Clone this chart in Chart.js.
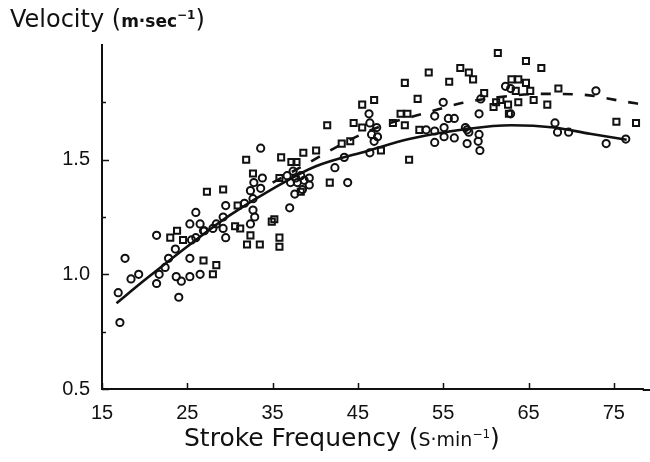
<!DOCTYPE html>
<html>
<head>
<meta charset="utf-8">
<script src="https://cdn.jsdelivr.net/npm/chart.js@4"></script>
<style>
  html, body { margin:0; padding:0; background:#fff; }
  #wrap { position:relative; width:650px; height:462px; }
  canvas { position:absolute; left:0; top:0; }
  .ttl { position:absolute; color:#111; font-family:"DejaVu Sans", sans-serif; white-space:nowrap; line-height:1; }
  .ttl .sm { font-size:17px; font-weight:bold; }
  .ttl sup { font-size:12px; vertical-align:8px; }
</style>
</head>
<body>
<div id="wrap">
  <canvas id="c" width="650" height="462"></canvas>
  <div class="ttl" id="ytitle" style="left:10px; top:7px; font-size:24px;">Velocity (<span class="sm">m·sec<sup>−1</sup></span>)</div>
  <div class="ttl" id="xtitle" style="left:184px; top:425px; font-size:25px;">Stroke Frequency (<span class="sm" style="font-weight:normal;font-size:19px;">S·min<sup>−1</sup></span>)</div>
</div>
<script>
// ---- Data ----
const xTicks = [15, 25, 35, 45, 55, 65, 75];
const yTicks = [0.5, 0.75, 1.0, 1.25, 1.5, 1.75];
const yTickLabels = {0.5: "0.5", 1: "1.0", 1.5: "1.5"};

// Circles (solid-curve group): [stroke frequency, velocity]
const circlePoints = [
  [16.9,0.92],[17.1,0.79],[17.7,1.07],[18.4,0.98],[19.3,1.00],[21.4,1.17],[21.4,0.96],[21.7,1.00],
  [22.4,1.03],[22.8,1.07],[23.6,1.11],[23.7,0.99],[24.0,0.90],[24.3,0.97],[25.3,1.22],[25.3,1.07],
  [25.3,0.99],[25.5,1.15],[26.0,1.27],[26.0,1.16],[26.5,1.22],[26.5,1.00],[26.9,1.19],
  [33.6,1.55],[33.8,1.42],[32.8,1.40],[36.7,1.43],[37.4,1.45],[37.7,1.42],[38.3,1.43],[37.1,1.40],
  [37.9,1.40],[39.3,1.42],[37.6,1.35],[32.4,1.365],[33.6,1.375],[32.7,1.33],[29.5,1.30],[31.7,1.31],
  [37.0,1.29],[32.7,1.28],[32.9,1.25],[28.4,1.22],[29.2,1.25],[28.0,1.20],[29.2,1.20],[32.4,1.22],
  [29.5,1.16],[27.0,1.19],
  [46.3,1.70],[46.4,1.66],[47.2,1.64],[46.6,1.61],[47.3,1.60],[46.9,1.58],[46.4,1.53],[43.4,1.51],
  [42.3,1.465],[39.3,1.39],[38.7,1.41],[38.5,1.37],[43.8,1.40],
  [62.3,1.82],[62.9,1.81],[59.4,1.765],[55.0,1.75],[59.2,1.70],[54.0,1.69],[55.6,1.68],[56.3,1.68],
  [53.0,1.63],[54.0,1.625],[55.1,1.64],[55.1,1.60],[56.3,1.595],[57.8,1.63],[57.6,1.64],[58.0,1.62],
  [57.8,1.57],[59.2,1.61],[59.1,1.58],[59.3,1.54],[54.0,1.575],[62.9,1.70],
  [68.1,1.66],[68.4,1.62],[69.7,1.62],[74.1,1.57],[76.4,1.59],[72.9,1.80]
];

// Squares (dashed-curve group): [stroke frequency, velocity]
const squarePoints = [
  [23.0,1.16],[23.8,1.19],[24.5,1.15],[27.3,1.36],[26.9,1.06],[28.0,1.00],[28.4,1.04],
  [31.9,1.50],[36.0,1.51],[38.6,1.53],[37.2,1.49],[37.8,1.49],[32.7,1.44],[35.8,1.42],[38.3,1.36],
  [29.2,1.37],[30.9,1.30],[30.6,1.21],[31.2,1.20],[34.9,1.23],[35.2,1.24],[32.4,1.17],[32.0,1.13],
  [33.5,1.13],[35.8,1.16],[35.8,1.12],
  [50.5,1.835],[45.5,1.74],[46.9,1.76],[50.0,1.70],[50.8,1.70],[41.4,1.65],[44.5,1.66],[45.5,1.64],
  [49.1,1.66],[50.5,1.65],[47.7,1.54],[44.1,1.58],[43.1,1.57],[40.1,1.54],[41.7,1.40],[51.0,1.50],
  [61.4,1.965],[57.0,1.90],[58.0,1.88],[58.5,1.85],[53.3,1.88],[55.7,1.84],[63.0,1.85],[59.8,1.79],
  [52.0,1.765],[61.2,1.75],[61.7,1.76],[60.9,1.73],[62.6,1.74],[62.7,1.70],[52.2,1.63],
  [64.7,1.93],[66.5,1.90],[63.8,1.85],[64.7,1.835],[63.5,1.80],[65.2,1.80],[65.6,1.76],[63.8,1.75],
  [68.5,1.81],[67.2,1.74],[75.3,1.665],[77.6,1.66]
];

// Fitted curves, points
const solidCurve = [
  [16.7,0.874],[20,0.975],[26,1.15],[30,1.258],[35.8,1.39],[40,1.47],[46.3,1.54],[51,1.59],
  [58,1.635],[63,1.65],[68,1.64],[72.2,1.613],[76.5,1.587]
];
const dashedCurve = [
  [35,1.40],[39.4,1.49],[44,1.585],[48,1.65],[53,1.704],[57.3,1.748],[61,1.77],[66.4,1.787],
  [71.4,1.783],[76,1.755],[78.5,1.74]
];

const toXY = arr => arr.map(p => ({x: p[0], y: p[1]}));
const INK = '#111';

const inwardTicks = {
  id: 'inwardTicks',
  afterDraw(chart) {
    const {ctx, chartArea: a, scales: {x, y}} = chart;
    ctx.save();
    ctx.strokeStyle = INK;
    // x axis line continues to the page edge, as in the reference
    ctx.lineWidth = 2;
    ctx.beginPath(); ctx.moveTo(a.right - 1, a.bottom + 1); ctx.lineTo(chart.width, a.bottom + 1); ctx.stroke();
    ctx.lineWidth = 1.5;
    xTicks.forEach(v => {
      const px = Math.round(x.getPixelForValue(v)) + 0.5;
      ctx.beginPath(); ctx.moveTo(px, a.bottom); ctx.lineTo(px, a.bottom - 6); ctx.stroke();
    });
    yTicks.forEach(v => {
      const py = Math.round(y.getPixelForValue(v)) + 0.5;
      const len = yTickLabels[v] ? 7 : 4;
      ctx.beginPath(); ctx.moveTo(a.left, py); ctx.lineTo(a.left + len, py); ctx.stroke();
    });
    ctx.restore();
  }
};

new Chart(document.getElementById('c'), {
  type: 'scatter',
  data: {
    datasets: [
      {
        label: 'circles', data: toXY(circlePoints), pointStyle: 'circle', pointRadius: 3.6,
        borderColor: INK, backgroundColor: 'rgba(0,0,0,0)', pointBorderWidth: 2
      },
      {
        label: 'squares', data: toXY(squarePoints), pointStyle: 'rect', pointRadius: 4.3,
        borderColor: INK, backgroundColor: 'rgba(0,0,0,0)', pointBorderWidth: 2
      },
      {
        label: 'solid fit', data: toXY(solidCurve), showLine: true, pointRadius: 0,
        borderColor: INK, borderWidth: 2.6, tension: 0.4, cubicInterpolationMode: 'monotone', fill: false
      },
      {
        label: 'dashed fit', data: toXY(dashedCurve), showLine: true, pointRadius: 0,
        borderColor: INK, borderWidth: 2.6, borderDash: [10, 12], tension: 0.4, cubicInterpolationMode: 'monotone', fill: false
      }
    ]
  },
  options: {
    responsive: false,
    animation: false,
    devicePixelRatio: 1,
    layout: { padding: { top: 45, right: 0, left: 0, bottom: 0 } },
    plugins: { legend: { display: false }, tooltip: { enabled: false } },
    scales: {
      x: {
        type: 'linear', min: 15, max: 78.5,
        afterBuildTicks: s => { s.ticks = xTicks.map(v => ({value: v})); },
        afterFit: s => { s.height = 73; },
        grid: { display: false, drawTicks: false },
        border: { display: true, color: INK, width: 2 },
        ticks: { padding: 12, color: INK, autoSkip: false, maxRotation: 0,
                 font: { family: 'Liberation Sans', size: 20 }, callback: v => String(v) }
      },
      y: {
        type: 'linear', min: 0.5, max: 2.0,
        afterBuildTicks: s => { s.ticks = yTicks.map(v => ({value: v})); },
        afterFit: s => { s.width = 102; },
        grid: { display: false, drawTicks: false },
        border: { display: true, color: INK, width: 2 },
        ticks: { padding: 12, color: INK, autoSkip: false,
                 font: { family: 'Liberation Sans', size: 20 }, callback: v => yTickLabels[v] || '' }
      }
    }
  },
  plugins: [inwardTicks]
});
</script>
</body>
</html>
